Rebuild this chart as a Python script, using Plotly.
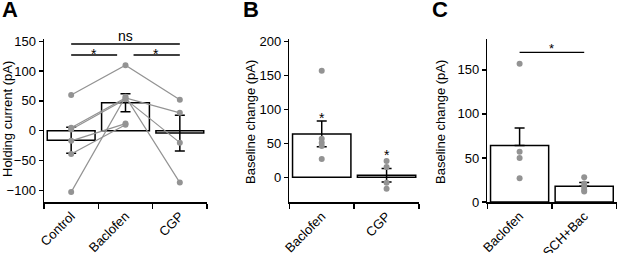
import plotly.graph_objects as go

# ---------------- data ----------------
# Panel A: holding current per cell across conditions
a_categories = ["Control", "Baclofen", "CGP"]
a_means = [-16, 47, -4]
a_err = [22, 15, 30]
# paired cells (Control -> Baclofen -> CGP); None where not recorded
a_cells = [
    [60, 110, 52],
    [5, 55, 30],
    [2, 53, -20],
    [-17, 12, None],
    [-39, 10, None],
    [-103, 57, -87],
]
a_yticks = [-100, -50, 0, 50, 100, 150]

# Panel B: baseline change
b_categories = ["Baclofen", "CGP"]
b_means = [64, 3]
b_err = [19, 10]
b_points_baclofen = [157, 57, 51, 46, 27]
b_points_cgp = [24, 15, -8, -17]
b_yticks = [0, 50, 100, 150, 200]

# Panel C: baseline change, baclofen vs SCH+Bac
c_categories = ["Baclofen", "SCH+Bac"]
c_means = [64, 18]
c_err = [20, 4]
c_points_baclofen = [157, 57, 50, 27]
c_points_sch = [28, 21, 17, 14, 12]
c_yticks = [0, 50, 100, 150]

# ---------------- styling ----------------
FONT = "Arial, 'Liberation Sans', sans-serif"
GRAY = "#939393"
W, H = 617, 253


def px_x(p):
    return p / W


def px_y(p):
    return 1 - p / H


fig = go.Figure()


def add_bars(xref, yref, cats, means, width):
    fig.add_trace(go.Bar(
        x=cats, y=means, xaxis=xref, yaxis=yref, width=width,
        marker=dict(color="white", line=dict(color="black", width=1.5)),
        showlegend=False, hoverinfo="skip"))


def add_err(xref, yref, cats, means, plus, minus=None):
    ey = dict(type="data", array=plus, color="black", thickness=1.5, width=5, visible=True)
    if minus is not None:
        ey["symmetric"] = False
        ey["arrayminus"] = minus
    fig.add_trace(go.Scatter(
        x=cats, y=means, xaxis=xref, yaxis=yref, mode="markers",
        marker=dict(size=1, color="rgba(0,0,0,0)"), error_y=ey,
        showlegend=False, hoverinfo="skip"))


# ----- Panel A -----
add_bars("x", "y", a_categories, a_means, 0.88)
add_err("x", "y", a_categories, a_means, a_err)
for cell in a_cells:
    xs = [c for c, v in zip(a_categories, cell) if v is not None]
    ys = [v for v in cell if v is not None]
    fig.add_trace(go.Scatter(
        x=xs, y=ys, xaxis="x", yaxis="y", mode="lines+markers",
        line=dict(color=GRAY, width=1.2), marker=dict(color=GRAY, size=6),
        showlegend=False, hoverinfo="skip", cliponaxis=False))

# ----- Panel B -----
add_bars("x2", "y2", b_categories, b_means, 0.9)
add_err("x2", "y2", b_categories, b_means, b_err)
fig.add_trace(go.Scatter(
    x=[b_categories[0]] * len(b_points_baclofen) + [b_categories[1]] * len(b_points_cgp),
    y=b_points_baclofen + b_points_cgp, xaxis="x2", yaxis="y2", mode="markers",
    marker=dict(color=GRAY, size=6), showlegend=False, hoverinfo="skip"))

# ----- Panel C -----
add_bars("x3", "y3", c_categories, c_means, 0.9)
add_err("x3", "y3", c_categories, c_means, c_err, [0, 0])
fig.add_trace(go.Scatter(
    x=[c_categories[0]] * len(c_points_baclofen) + [c_categories[1]] * len(c_points_sch),
    y=c_points_baclofen + c_points_sch, xaxis="x3", yaxis="y3", mode="markers",
    marker=dict(color=GRAY, size=6), showlegend=False, hoverinfo="skip"))


def xaxis_style(domain, n):
    return dict(domain=domain, type="category", range=[-0.5, n - 0.5],
                showline=True, linecolor="black", linewidth=1.5,
                ticks="outside", ticklen=5, tickwidth=1.5, tickcolor="black",
                tickson="boundaries", tickangle=-45, showgrid=False, automargin=False,
                tickfont=dict(family=FONT, size=13, color="black"), fixedrange=True)


def yaxis_style(domain, rng, tickvals, anchor):
    return dict(domain=domain, range=rng, tickvals=tickvals, anchor=anchor,
                showline=True, linecolor="black", linewidth=1.5,
                ticks="outside", ticklen=4, tickwidth=1.5, tickcolor="black",
                showgrid=False, zeroline=False, automargin=False,
                tickfont=dict(family=FONT, size=13, color="black"), fixedrange=True)


ydom = [px_y(202), px_y(39)]

fig.update_layout(
    template="none",
    width=W, height=H, autosize=False,
    margin=dict(l=0, r=0, t=0, b=0, pad=0),
    paper_bgcolor="white", plot_bgcolor="white",
    bargap=0,
    font=dict(family=FONT, size=13, color="black"),
    xaxis=dict(**xaxis_style([px_x(44), px_x(207)], 3), anchor="y"),
    yaxis=yaxis_style(ydom, [-119.6, 153.9], a_yticks, "x"),
    xaxis2=dict(**xaxis_style([px_x(289.3), px_x(419)], 2), anchor="y2"),
    yaxis2=yaxis_style([px_y(202.3), px_y(39.3)], [-36.9, 203.5], b_yticks, "x2"),
    xaxis3=dict(**xaxis_style([px_x(487.3), px_x(616.5)], 2), anchor="y3"),
    yaxis3=yaxis_style(ydom, [0, 185], c_yticks, "x3"),
)

shapes = []
annotations = []
BLACK = dict(color="black", family=FONT)

# significance lines panel A
for x0, x1, y in [(0, 2, 145.5), (0, 0.846, 127), (1.148, 2, 127)]:
    shapes.append(dict(type="line", xref="x", yref="y", x0=x0, x1=x1, y0=y, y1=y,
                       line=dict(color="black", width=1.5)))
annotations.append(dict(xref="x", yref="y", x=1, y=145.5, text="ns", showarrow=False,
                        yanchor="bottom", font=dict(size=14, **BLACK), yshift=-2))
annotations.append(dict(xref="x", yref="y", x=0.42, y=129, text="*", showarrow=False,
                        yanchor="middle", font=dict(size=14, **BLACK)))
annotations.append(dict(xref="x", yref="y", x=1.57, y=129, text="*", showarrow=False,
                        yanchor="middle", font=dict(size=14, **BLACK)))

# panel B stars
annotations.append(dict(xref="x2", yref="y2", x=0, y=87.4, text="*", showarrow=False,
                        yanchor="middle", font=dict(size=14, **BLACK)))
annotations.append(dict(xref="x2", yref="y2", x=1, y=32.8, text="*", showarrow=False,
                        yanchor="middle", font=dict(size=14, **BLACK)))

# panel C significance
shapes.append(dict(type="line", xref="x3", yref="y3", x0=0, x1=1, y0=169.8, y1=169.8,
                   line=dict(color="black", width=1.2)))
annotations.append(dict(xref="x3", yref="y3", x=0.5, y=174.6, text="*", showarrow=False,
                        yanchor="middle", font=dict(size=13, **BLACK)))

# y-axis titles
for xc, yc, txt in [(8, 119, "Holding current (pA)"),
                    (250, 122, "Baseline change (pA)"),
                    (440, 122, "Baseline change (pA)")]:
    annotations.append(dict(xref="paper", yref="paper", x=px_x(xc), y=px_y(yc), text=txt,
                            textangle=-90, showarrow=False, xanchor="center", yanchor="middle",
                            font=dict(size=13, **BLACK)))

# panel letters
for xc, letter in [(10, "A"), (251, "B"), (440, "C")]:
    annotations.append(dict(xref="paper", yref="paper", x=px_x(xc), y=px_y(10), text=f"<b>{letter}</b>",
                            showarrow=False, xanchor="center", yanchor="middle",
                            font=dict(size=22, **BLACK)))

fig.update_layout(shapes=shapes, annotations=annotations)

fig.write_html("out.html", config={"displayModeBar": False, "staticPlot": True},
               post_script="document.body.style.margin='0';document.body.style.padding='0';")
